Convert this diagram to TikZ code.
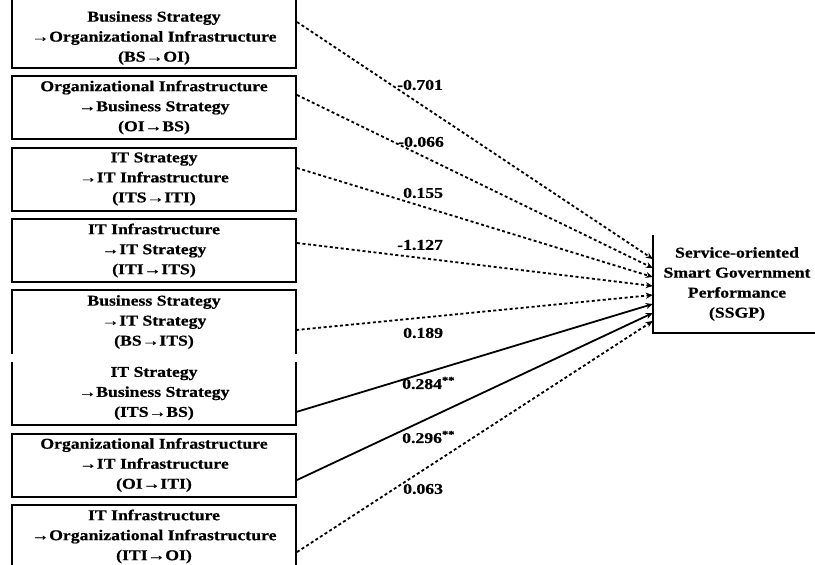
\documentclass[tikz,border=0pt]{standalone}
\usepackage{fontspec}
\newfontfamily\tnr[FakeStretch=1.18,FakeBold=0.6]{Liberation Serif}
\usetikzlibrary{arrows.meta,fit}
\begin{document}
\begin{tikzpicture}[x=1pt,y=-1pt,
  every node/.style={font=\tnr\bfseries\fontsize{15}{20}\selectfont},
  boxnode/.style={minimum width=284pt, minimum height=63pt, align=center, inner sep=0pt},
  boxline/.style={line width=2pt},
  framed/.style={draw, boxline},
  dotline/.style={line width=1.8pt, dash pattern=on 3pt off 2.5pt, -{Stealth[length=7pt,width=6pt]}},
  solidline/.style={line width=1.8pt, -{Stealth[length=7pt,width=6pt]}},
  coef/.style={anchor=west, inner sep=0pt}]
\useasboundingbox (0,0) rectangle (815,565);

% left boxes
\node[boxnode] (b1) at (154,38) {Business Strategy\\→Organizational Infrastructure\\(BS→OI)};
\node[framed, inner sep=0pt, fit={(12,-4) (296,68)}] (f1) {};
\node[boxnode, framed] (b2) at (154,107.5) {Organizational Infrastructure\\→Business Strategy\\(OI→BS)};
\node[boxnode, framed] (b3) at (154,179) {IT Strategy\\→IT Infrastructure\\(ITS→ITI)};
\node[boxnode, framed] (b4) at (154,250.5) {IT Infrastructure\\→IT Strategy\\(ITI→ITS)};
\node[boxnode] (b5) at (154,322) {Business Strategy\\→IT Strategy\\(BS→ITS)};
\draw[boxline] (b5.south west) -- (b5.north west) -- (b5.north east) -- (b5.south east);
\node[boxnode] (b6) at (154,393.5) {IT Strategy\\→Business Strategy\\(ITS→BS)};
\draw[boxline] (b6.north west) -- (b6.south west) -- (b6.south east) -- (b6.north east);
\node[boxnode, framed] (b7) at (154,465) {Organizational Infrastructure\\→IT Infrastructure\\(OI→ITI)};
\node[boxnode, framed] (b8) at (154,536.5) {IT Infrastructure\\→Organizational Infrastructure\\(ITI→OI)};

% target
\node[align=center, minimum width=168pt, minimum height=98pt, inner sep=0pt] (s) at (737,284)
  {Service-oriented\\Smart Government\\Performance\\(SSGP)};
\draw[boxline] (s.north west) -- (s.south west) -- (s.south east);

% connectors
\draw[dotline] ([yshift=10pt]f1.east) -- ([yshift=25pt]s.west);
\draw[dotline] ([yshift=12.5pt]b2.east) -- ([yshift=16pt]s.west);
\draw[dotline] ([yshift=11pt]b3.east) -- ([yshift=7pt]s.west);
\draw[dotline] ([yshift=7.5pt]b4.east) -- ([yshift=-2pt]s.west);
\draw[dotline] ([yshift=-8pt]b5.east) -- ([yshift=-11pt]s.west);
\draw[solidline] ([yshift=-18.5pt]b6.east) -- ([yshift=-20pt]s.west);
\draw[solidline] ([yshift=-15pt]b7.east) -- ([yshift=-29pt]s.west);
\draw[dotline] ([yshift=-15.5pt]b8.east) -- ([yshift=-37pt]s.west);

% coefficients
\node[coef] (c1) at (397,85) {-0.701};
\node[coef] (c2) at (398,142) {-0.066};
\node[coef] (c3) at (403,193) {0.155};
\node[coef] (c4) at (397,245) {-1.127};
\node[coef] (c5) at (403,333) {0.189};
\node[coef] (c6) at (402,383) {0.284\textsuperscript{**}};
\node[coef] (c7) at (402,437) {0.296\textsuperscript{**}};
\node[coef] (c8) at (403,489) {0.063};
\end{tikzpicture}
\end{document}
